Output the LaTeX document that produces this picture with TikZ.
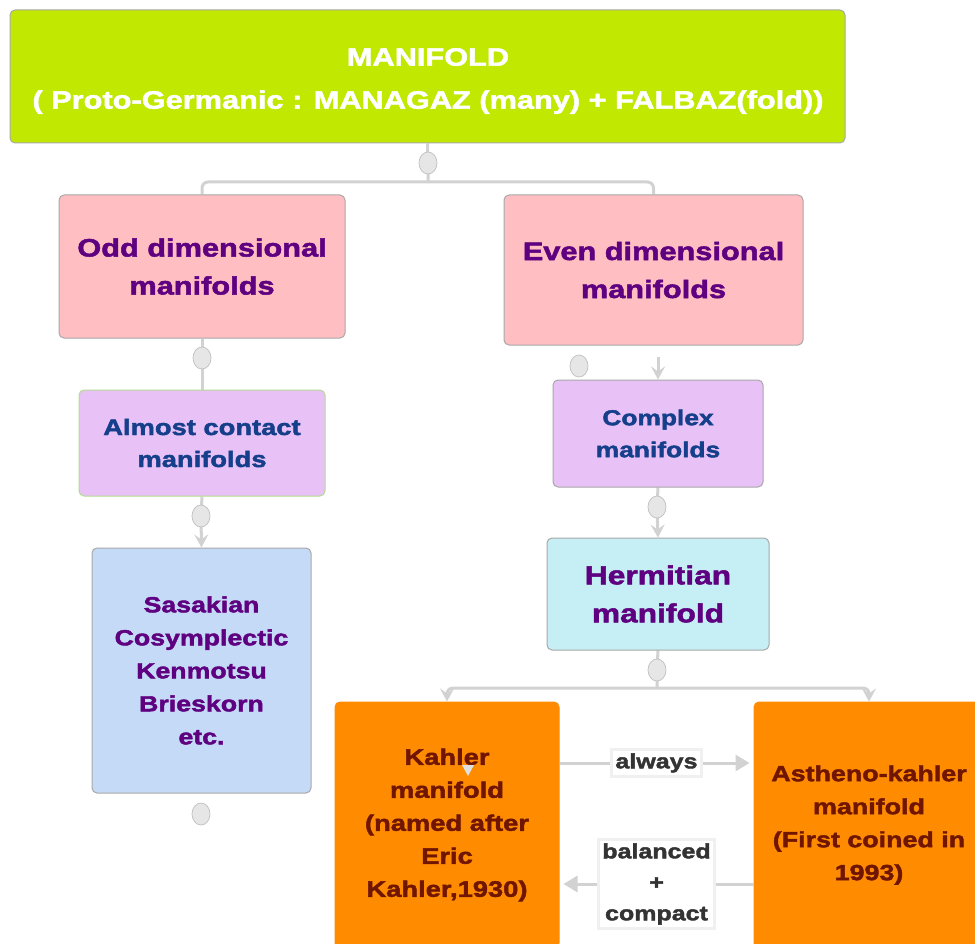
\documentclass[tikz,border=0pt]{standalone}
\usepackage{fontspec}
\newfontfamily\bfont{Liberation Sans}[FakeStretch=1.22, FakeBold=2]
\usetikzlibrary{arrows.meta,shapes.geometric,backgrounds}
\definecolor{rootgreen}{HTML}{C0E800}
\definecolor{pinkbox}{HTML}{FFBEC2}
\definecolor{lavbox}{HTML}{E8C1F7}
\definecolor{bluebox}{HTML}{C4DAF6}
\definecolor{cyanbox}{HTML}{C5EEF5}
\definecolor{orangebox}{HTML}{FF8C00}
\definecolor{txtpurple}{HTML}{5E0080}
\definecolor{txtblue}{HTML}{153F8A}
\definecolor{txtred}{HTML}{701500}
\definecolor{conncol}{HTML}{D2D2D2}
\definecolor{dotfill}{HTML}{E6E6E6}
\definecolor{dotdraw}{HTML}{C4C4C4}
\definecolor{boxborder}{HTML}{A8A8A8}
\definecolor{greenborder}{HTML}{B5DB8F}
\begin{document}
\begin{tikzpicture}[x=1pt,y=-1pt,
  box/.style={draw=boxborder, line width=1pt, rounded corners=5pt, align=center, inner sep=0pt},
  conn/.style={draw=conncol, line width=3pt},
  arr/.style={conn, -{Stealth[length=13pt,width=14pt,inset=5pt]}},
  harr/.style={conn, -{Triangle[length=14pt,width=16pt]}, shorten >=4pt},
  dot/.style={ellipse, fill=dotfill, draw=dotdraw, line width=0.8pt, minimum width=18pt, minimum height=22pt, inner sep=0pt},
  lbl/.style={fill=white, draw=black!6, text=black!80, align=center, inner sep=4pt, font=\bfont\bfseries\fontsize{20.5}{31}\selectfont}]
\useasboundingbox (0,0) rectangle (975,944);

% boxes
\node[box, fill=rootgreen, minimum width=835pt, minimum height=133pt] (root) at (427.5,76.5) {};
\node[text=white, align=center, inner sep=0pt,
  font=\bfont\bfseries\fontsize{25.2}{43}\selectfont] (roottxt) at (428,81)
  {MANIFOLD\\( Proto-Germanic : MANAGAZ (many) + FALBAZ(fold))};
\node[box, fill=pinkbox, text=txtpurple, minimum width=286pt, minimum height=143pt,
  font=\bfont\bfseries\fontsize{25.2}{38}\selectfont] (odd) at (202,266.5)
  {Odd dimensional\\manifolds};
\node[box, fill=pinkbox, text=txtpurple, minimum width=299pt, minimum height=150pt,
  font=\bfont\bfseries\fontsize{25.2}{38}\selectfont] (even) at (653.5,270)
  {Even dimensional\\manifolds};
\node[box, draw=greenborder, fill=lavbox, text=txtblue, minimum width=246pt, minimum height=106pt,
  font=\bfont\bfseries\fontsize{22.4}{32}\selectfont] (almost) at (202,443)
  {Almost contact\\manifolds};
\node[box, fill=lavbox, text=txtblue, minimum width=210pt, minimum height=107pt,
  font=\bfont\bfseries\fontsize{21.6}{32}\selectfont] (complex) at (658,433.5)
  {Complex\\manifolds};
\node[box, fill=bluebox, text=txtpurple, minimum width=219pt, minimum height=245pt,
  font=\bfont\bfseries\fontsize{21.9}{33}\selectfont] (sas) at (201.5,670.5)
  {Sasakian\\Cosymplectic\\Kenmotsu\\Brieskorn\\etc.};
\node[box, fill=cyanbox, text=txtpurple, minimum width=222pt, minimum height=112pt,
  font=\bfont\bfseries\fontsize{26}{38}\selectfont] (herm) at (658,594)
  {Hermitian\\manifold};
\node[box, draw=orangebox, fill=orangebox, text=txtred, minimum width=224pt, minimum height=246pt,
  font=\bfont\bfseries\fontsize{22.4}{33}\selectfont] (kahler) at (447,825)
  {Kahler\\manifold\\(named after\\Eric\\Kahler,1930)};
\node[box, draw=orangebox, fill=orangebox, text=txtred, minimum width=230pt, minimum height=246pt,
  font=\bfont\bfseries\fontsize{22}{33}\selectfont] (asth) at (869,825)
  {Astheno-kahler\\manifold\\(First coined in\\1993)};

% dots
\node[dot] (c0) at (428,163) {};
\node[dot] (c1) at (202,358) {};
\node[dot] (c2) at (201,516) {};
\node[dot] (c3) at (201,814) {};
\node[dot] (c4) at (579,366) {};
\node[dot] (c5) at (657,507) {};
\node[dot] (c6) at (657,670) {};
\coordinate (j0) at (428,182);
\coordinate (j1) at (657,688);
\coordinate (e1) at (656,357);

\begin{pgfonlayer}{background}
\fill[white] (0,0) rectangle (975,944);
\draw[conn] (root.south) -- (c0.center) -- (j0);
\draw[conn, rounded corners=6pt] (j0) -| (odd.north);
\draw[conn, rounded corners=6pt] (j0) -| (even.north);
\draw[conn] (odd.south) -- (c1.center) -- (almost.north);
\draw[arr] (almost.south) -- (c2.center) -- (sas.north);
\draw[arr] (e1 -| complex.north) -- (complex.north);
\draw[arr] (complex.south) -- (c5.center) -- (herm.north);
\draw[conn] (herm.south) -- (c6.center) -- (j1);
\draw[arr, rounded corners=6pt] (j1) -| (kahler.north);
\draw[arr, rounded corners=6pt] (j1) -| (asth.north);
\end{pgfonlayer}

\draw[harr] ([yshift=62pt]kahler.east) -- ([yshift=62pt]asth.west)
  node[midway, lbl] (l1) {always};
\draw[harr] ([yshift=-59pt]asth.west) -- ([yshift=-59pt]kahler.east)
  node[midway, lbl] (l2) {balanced\\+\\compact};

% stray small arrowhead inside the Kahler box
\fill[black!12] (462,765) -- (474,765) -- (468,776) -- cycle;
\end{tikzpicture}
\end{document}
